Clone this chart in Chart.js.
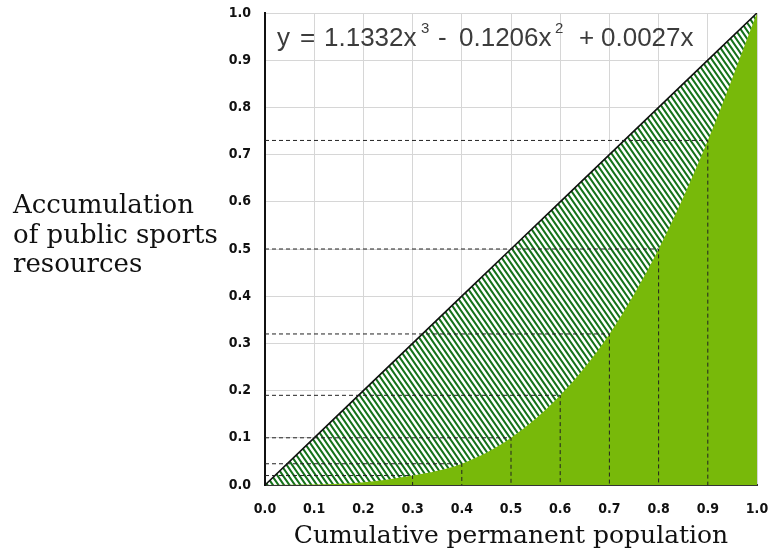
<!DOCTYPE html>
<html>
<head>
<meta charset="utf-8">
<style>
  html, body { margin: 0; padding: 0; background: #fff; }
  #wrap { position: relative; width: 771px; height: 554px; }
</style>
<script src="https://cdn.jsdelivr.net/npm/chart.js@4.4.1/dist/chart.umd.min.js"></script>
</head>
<body>
<div id="wrap"><canvas id="lorenz" width="771" height="554"></canvas></div>
<script>
// ---- DATA ----
const popShare      = [0.0, 0.1, 0.2, 0.3, 0.4, 0.5, 0.6, 0.7, 0.8, 0.9, 1.0];
const resourceShare = [0.0, 0.001, 0.006, 0.02, 0.045, 0.1, 0.19, 0.32, 0.5, 0.73, 1.0];
const equalityLine  = [0.0, 0.1, 0.2, 0.3, 0.4, 0.5, 0.6, 0.7, 0.8, 0.9, 1.0];
const markedShares  = [0.3, 0.4, 0.5, 0.6, 0.7, 0.8, 0.9];   // dashed read-off guides
const tickValues    = [0.0, 0.1, 0.2, 0.3, 0.4, 0.5, 0.6, 0.7, 0.8, 0.9, 1.0];

const xTitle = 'Cumulative permanent population';
const yTitle = ['Accumulation', 'of public sports', 'resources'];
// equation pieces: text, x position, superscript?
const fitEq  = [
  ['y', 277, false], ['=', 300, false], ['1.1332x', 324, false], ['3', 421, true],
  ['-', 438, false], ['0.1206x', 459, false], ['2', 555, true],
  ['+', 579, false], ['0.0027x', 601, false],
];

const GREEN  = '#78b90a';
const HATCH  = '#15721a';
const TICK_FONT = { family: "'Liberation Sans Narrow', 'DejaVu Sans Condensed', sans-serif", size: 14, weight: 'bold' };
const SERIF = "'DejaVu Serif', 'Liberation Serif', serif";

// ---- HATCH PATTERN (steep "\" stripes) ----
function makeHatch() {
  const w = 11, h = 16, step = 5.5;
  const t = document.createElement('canvas');
  t.width = w; t.height = h;
  const g = t.getContext('2d');
  g.fillStyle = '#ffffff';
  g.fillRect(0, 0, w, h);
  g.strokeStyle = HATCH;
  g.lineWidth = 2.1;
  g.beginPath();
  for (let k = -3; k <= 3; k++) {
    const x0 = k * step;
    g.moveTo(x0 - 0.2 * w, -0.2 * h);
    g.lineTo(x0 + 1.2 * w, 1.2 * h);
  }
  g.stroke();
  return g.createPattern(t, 'repeat');
}

const pts = (xs, ys) => xs.map((x, i) => ({ x, y: ys[i] }));

// dashed guides: from y-axis across to the curve, then down to x-axis
const guideSets = markedShares.map(mx => {
  const i = popShare.indexOf(mx);
  const my = resourceShare[i];
  return {
    data: [{ x: 0, y: my }, { x: mx, y: my }, { x: mx, y: 0 }],
    borderColor: '#222',
    borderWidth: 1,
    borderDash: [4, 3],
    pointRadius: 0,
    fill: false,
    tension: 0,
  };
});

const curveIndex = guideSets.length + 1;

// ---- text plugin: equation + horizontal y title ----
const textPlugin = {
  id: 'texts',
  afterDatasetsDraw(chart) {
    const ctx = chart.ctx;
    ctx.save();
    ctx.fillStyle = '#3c3c3c';
    ctx.textBaseline = 'alphabetic';
    ctx.textAlign = 'left';
    fitEq.forEach(([s, x, sup]) => {
      ctx.font = sup ? '15px "Liberation Sans", Arial, sans-serif' : '26px "Liberation Sans", Arial, sans-serif';
      ctx.fillText(s, x, sup ? 33 : 46);
    });
    ctx.fillStyle = '#111';
    ctx.font = '26px ' + SERIF;
    yTitle.forEach((line, i) => ctx.fillText(line, 13, 213 + i * 29.5));
    ctx.restore();
  }
};

new Chart(document.getElementById('lorenz'), {
  type: 'line',
  data: {
    datasets: [
      ...guideSets,
      {
        label: 'Equality',
        data: pts(popShare, equalityLine),
        borderColor: '#111',
        borderWidth: 1.6,
        pointRadius: 0,
        tension: 0,
        fill: { target: curveIndex },
        backgroundColor: makeHatch(),
      },
      {
        label: 'Lorenz',
        data: pts(popShare, resourceShare),
        borderColor: GREEN,
        borderWidth: 1,
        pointRadius: 0,
        cubicInterpolationMode: 'monotone',
        fill: 'origin',
        backgroundColor: GREEN,
      },
    ]
  },
  options: {
    responsive: false,
    animation: false,
    layout: { padding: { left: 205, right: 14, top: 13, bottom: 0 } },
    plugins: { legend: { display: false }, tooltip: { enabled: false } },
    scales: {
      x: {
        type: 'linear', min: 0, max: 1,
        afterFit: s => { s.height = 69; s.paddingLeft = 0; s.paddingRight = 0; },
        afterBuildTicks: s => { s.ticks = tickValues.map(v => ({ value: v })); },
        grid: { color: '#d6d6d6', drawTicks: false },
        border: { color: '#333', width: 2 },
        ticks: { color: '#111', font: TICK_FONT, padding: 16, maxRotation: 0, callback: v => v.toFixed(1) },
        title: {
          display: true, text: xTitle, color: '#111',
          font: { family: SERIF, size: 25 },
          padding: { top: 0, bottom: 3 },
        },
      },
      y: {
        type: 'linear', min: 0, max: 1,
        afterFit: s => { s.width = 60; s.paddingTop = 0; s.paddingBottom = 0; },
        afterBuildTicks: s => { s.ticks = tickValues.map(v => ({ value: v })); },
        grid: { color: '#d6d6d6', drawTicks: false },
        border: { color: '#111', width: 2 },
        ticks: { color: '#111', font: TICK_FONT, padding: 14, callback: v => v.toFixed(1) },
      },
    }
  },
  plugins: [textPlugin]
});
</script>
</body>
</html>
